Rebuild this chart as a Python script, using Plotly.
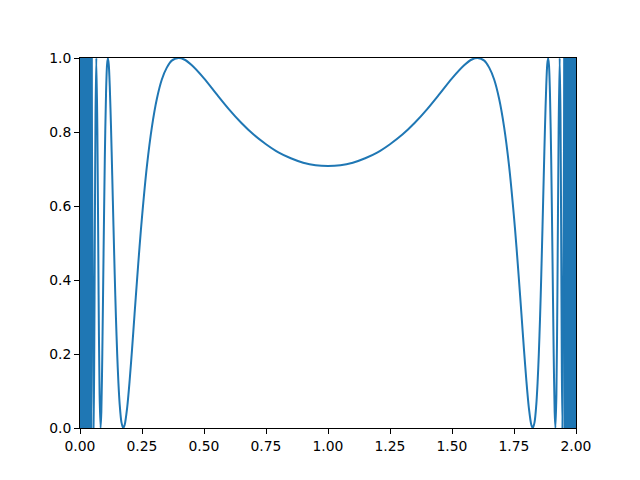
import plotly.graph_objects as go

# Dense oscillation block near x=0 (values alternate between 0 and 1)
x_block_left = [0.000, 0.0015, 0.003, 0.0045, 0.006, 0.0075, 0.009, 0.0105, 0.012, 0.0135,
                0.015, 0.0165, 0.018, 0.0195, 0.021, 0.0225, 0.024, 0.0255, 0.027, 0.0285,
                0.030, 0.0315, 0.033, 0.0345, 0.036, 0.0375, 0.039, 0.0405, 0.042, 0.0435,
                0.045, 0.0466]
y_block_left = [0, 1, 0, 1, 0, 1, 0, 1, 0, 1,
                0, 1, 0, 1, 0, 1, 0, 1, 0, 1,
                0, 1, 0, 1, 0, 1, 0, 1, 0, 1,
                0, 1]

# Curve (x from 0.0466 to 1.0)
x_left = [0.0466, 0.050, 0.0545, 0.057, 0.060, 0.0625, 0.0658, 0.070, 0.075, 0.079, 0.083,
          0.086, 0.090, 0.095, 0.100, 0.105, 0.109, 0.1124, 0.116, 0.120, 0.125,
          0.130, 0.135, 0.140, 0.145, 0.150, 0.155, 0.160, 0.167, 0.1743, 0.180,
          0.190, 0.200, 0.210, 0.220, 0.230, 0.240, 0.250, 0.270, 0.290, 0.310,
          0.330, 0.350, 0.370, 0.397, 0.420, 0.450, 0.500, 0.550, 0.600, 0.650,
          0.700, 0.750, 0.800, 0.850, 0.900, 0.950, 1.000]
y_left = [1.000, 0.546, 0.000, 0.148, 0.549, 0.845, 1.000, 0.808, 0.360, 0.091, 0.000,
          0.043, 0.202, 0.472, 0.726, 0.905, 0.981, 1.000, 0.982, 0.924, 0.814,
          0.682, 0.545, 0.414, 0.297, 0.199, 0.121, 0.064, 0.016, 0.000, 0.008,
          0.054, 0.127, 0.214, 0.308, 0.400, 0.489, 0.570, 0.709, 0.814, 0.890,
          0.942, 0.974, 0.993, 1.000, 0.996, 0.981, 0.945, 0.903, 0.862, 0.825,
          0.793, 0.767, 0.745, 0.729, 0.717, 0.710, 0.708]

# Right half (mirror image in the picture)
x_right = [1.050, 1.100, 1.150, 1.200, 1.250, 1.300, 1.350, 1.400, 1.450, 1.500,
           1.550, 1.580, 1.603, 1.630, 1.650, 1.670, 1.690, 1.710, 1.730, 1.750,
           1.760, 1.770, 1.780, 1.790, 1.800, 1.810, 1.820, 1.8257, 1.833, 1.840,
           1.845, 1.850, 1.855, 1.860, 1.865, 1.870, 1.875, 1.880, 1.884, 1.8876,
           1.891, 1.895, 1.900, 1.905, 1.910, 1.914, 1.917, 1.921, 1.925, 1.930,
           1.9342, 1.9375, 1.940, 1.943, 1.9455, 1.950, 1.9534]
y_right = [0.710, 0.717, 0.729, 0.745, 0.767, 0.793, 0.825, 0.862, 0.903, 0.945,
           0.981, 0.996, 1.000, 0.993, 0.974, 0.942, 0.890, 0.814, 0.709, 0.570,
           0.489, 0.400, 0.308, 0.214, 0.127, 0.054, 0.008, 0.000, 0.016, 0.064,
           0.121, 0.199, 0.297, 0.414, 0.545, 0.682, 0.814, 0.924, 0.982, 1.000,
           0.981, 0.905, 0.726, 0.472, 0.202, 0.043, 0.000, 0.091, 0.360, 0.808,
           1.000, 0.845, 0.549, 0.148, 0.000, 0.546, 1.000]

# Dense oscillation block near x=2
x_block_right = [1.9534, 1.955, 1.9565, 1.958, 1.9595, 1.961, 1.9625, 1.964, 1.9655, 1.967,
                 1.9685, 1.970, 1.9715, 1.973, 1.9745, 1.976, 1.9775, 1.979, 1.9805, 1.982,
                 1.9835, 1.985, 1.9865, 1.988, 1.9895, 1.991, 1.9925, 1.994, 1.9955, 1.997,
                 1.9985, 2.000]
y_block_right = [1, 0, 1, 0, 1, 0, 1, 0, 1, 0,
                 1, 0, 1, 0, 1, 0, 1, 0, 1, 0,
                 1, 0, 1, 0, 1, 0, 1, 0, 1, 0,
                 1, 0]

x_ticks = [0.0, 0.25, 0.5, 0.75, 1.0, 1.25, 1.5, 1.75, 2.0]
x_ticklabels = ["0.00", "0.25", "0.50", "0.75", "1.00", "1.25", "1.50", "1.75", "2.00"]
y_ticks = [0.0, 0.2, 0.4, 0.6, 0.8, 1.0]
y_ticklabels = ["0.0", "0.2", "0.4", "0.6", "0.8", "1.0"]

color = "#1f77b4"
fig = go.Figure()


def block_outline(xb, yb):
    # envelope of the dense oscillation: spans the block's x extent and y extent
    x0, x1 = min(xb), max(xb)
    y0, y1 = min(yb), max(yb)
    return [x0, x1, x1, x0, x0], [y0, y0, y1, y1, y0]


for xb, yb in ((x_block_left, y_block_left), (x_block_right, y_block_right)):
    ox, oy = block_outline(xb, yb)
    fig.add_trace(go.Scatter(x=ox, y=oy, mode="lines", fill="toself",
                             fillcolor=color, line=dict(color=color, width=1),
                             hoverinfo="skip"))
    fig.add_trace(go.Scatter(x=xb, y=yb, mode="lines",
                             line=dict(color=color, width=2, simplify=False),
                             hoverinfo="skip"))

fig.add_trace(go.Scatter(x=x_left + x_right, y=y_left + y_right, mode="lines",
                         line=dict(color=color, width=2, shape="spline", smoothing=0.8,
                                   simplify=False),
                         hoverinfo="skip"))

axis_common = dict(showline=True, linecolor="black", linewidth=1, mirror=True,
                   ticks="outside", ticklen=5, tickwidth=1, tickcolor="black",
                   showgrid=False, zeroline=False,
                   tickfont=dict(family="DejaVu Sans", size=13.9, color="black"))
fig.update_layout(
    width=640, height=480,
    margin=dict(l=72, r=72, t=50, b=60, autoexpand=False),
    paper_bgcolor="white", plot_bgcolor="white",
    showlegend=False,
    xaxis=dict(range=[0, 2], tickvals=x_ticks, ticktext=x_ticklabels, **axis_common),
    yaxis=dict(range=[0, 1], tickvals=y_ticks, ticktext=y_ticklabels, **axis_common),
)
fig.write_html("out.html")
